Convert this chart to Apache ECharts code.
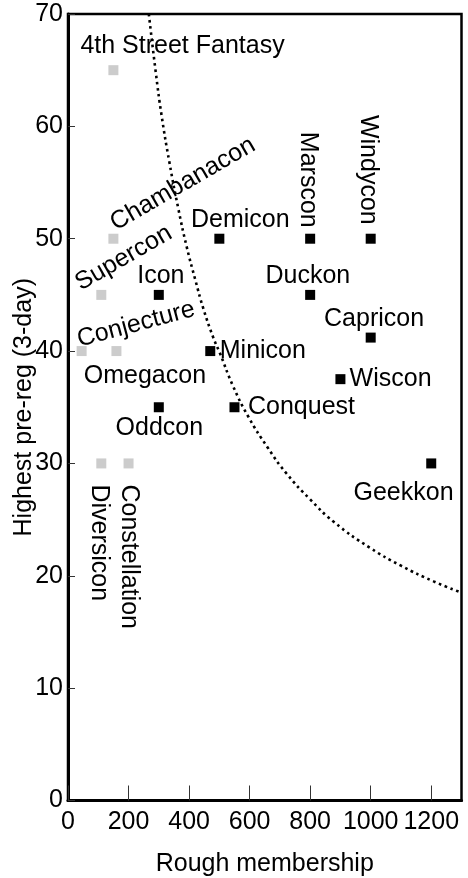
<!DOCTYPE html>
<html><head><meta charset="utf-8">
<script src="https://cdn.jsdelivr.net/npm/echarts@6/dist/echarts.min.js"></script>
<style>html,body{margin:0;padding:0;background:#fff}#c{width:468px;height:878px}</style>
</head><body><div id="c"></div>
<script>
// Grey conventions
const grayNames = ['4th Street Fantasy','Chambanacon','Supercon','Conjecture','Omegacon','Diversicon','Constellation'];
const grayMembership = [150,150,110,45,160,110,200];
const grayPrereg = [65,50,45,40,40,30,30];
// Black conventions
const blackNames = ['Icon','Demicon','Marscon','Windycon','Duckon','Capricon','Minicon','Wiscon','Conquest','Oddcon','Geekkon'];
const blackMembership = [300,500,800,1000,800,1000,470,900,550,300,1200];
const blackPrereg = [45,50,50,50,45,41.2,40,37.5,35,35,30];
// Dotted curve
const curveMembership = [267,290,309,335,365,392,420,447,480,502,545,595,660,722,800,878,997,1100,1208,1300];
const curvePrereg = [70,64.8,61.0,56.8,52.6,49.3,46.4,43.8,41.2,39.8,36.9,34.2,31.4,29.1,26.8,24.8,22.5,20.9,19.5,18.5];
// Axis ticks
const xTickStep = 200, xMin = 0, xMax = 1300;
const yTickStep = 10, yMin = 0, yMax = 70;

// Label placement (layout only): [dx, dy, align, rotate]
const labelPlacement = {
  '4th Street Fantasy': [-33, -24, 'left', 0],
  'Chambanacon': [-1, -14, 'left', 30],
  'Supercon': [-24, -10, 'left', 30],
  'Conjecture': [-4, -11, 'left', 15],
  'Omegacon': [28.5, 25, 'center', 0],
  'Diversicon': [-2.5, 21, 'left', -90],
  'Constellation': [0, 21, 'left', -90],
  'Icon': [2, -18.7, 'center', 0],
  'Demicon': [21, -19, 'center', 0],
  'Marscon': [-2.7, -11, 'right', -90],
  'Windycon': [-3, -14, 'right', -90],
  'Duckon': [-2.3, -18.7, 'center', 0],
  'Capricon': [3.4, -18.5, 'center', 0],
  'Minicon': [9.5, 0.3, 'left', 0],
  'Wiscon': [9.2, 0.3, 'left', 0],
  'Conquest': [13.5, 0, 'left', 0],
  'Oddcon': [0.5, 20.5, 'center', 0],
  'Geekkon': [-27.7, 29.5, 'center', 0]
};
const FONT = "'Liberation Sans', Arial, Helvetica, sans-serif";
const FS = 25;
const SYM = 10;

function buildPoints(names, xs, ys) {
  return names.map((n, i) => {
    const p = labelPlacement[n];
    return {
      name: n,
      value: [xs[i], ys[i]],
      label: {
        show: true,
        formatter: n,
        position: [SYM / 2 + p[0], SYM / 2 + p[1]],
        align: p[2],
        verticalAlign: 'middle',
        rotate: p[3]
      }
    };
  });
}

const chart = echarts.init(document.getElementById('c'), null, {renderer: 'canvas'});
chart.setOption({
  animation: false,
  backgroundColor: '#fff',
  textStyle: {fontFamily: FONT},
  grid: {left: 68, right: 6.5, top: 14, bottom: 77.5, outerBoundsMode: 'none', containLabel: false,
         show: true, borderColor: '#000', borderWidth: 2.5, backgroundColor: 'transparent'},
  xAxis: {
    type: 'value', min: xMin, max: xMax, interval: xTickStep,
    name: 'Rough membership', nameLocation: 'middle', nameGap: 51, nameMoveOverlap: false,
    nameTextStyle: {fontSize: FS, color: '#000', fontFamily: FONT},
    axisLine: {show: true, onZero: false, lineStyle: {color: '#000', width: 3}},
    axisTick: {show: true, inside: true, length: 15, lineStyle: {color: '#333', width: 1}},
    axisLabel: {fontSize: FS, color: '#000', margin: 9, fontFamily: FONT, showMaxLabel: false,
                formatter: v => String(v)},
    splitLine: {show: false}
  },
  yAxis: {
    type: 'value', min: yMin, max: yMax, interval: yTickStep,
    name: 'Highest pre-reg (3-day)', nameLocation: 'middle', nameGap: 31, nameMoveOverlap: false,
    nameTextStyle: {fontSize: FS, color: '#000', fontFamily: FONT},
    axisLine: {show: true, onZero: false, lineStyle: {color: '#000', width: 3}},
    axisTick: {show: true, inside: true, length: 7, lineStyle: {color: '#333', width: 1}},
    axisLabel: {fontSize: FS, color: '#000', margin: 5, fontFamily: FONT, formatter: v => String(v)},
    splitLine: {show: false}
  },
  series: [
    {
      type: 'line',
      data: curveMembership.map((x, i) => [x, curvePrereg[i]]),
      smooth: 0.5,
      showSymbol: false,
      symbol: 'none',
      clip: true,
      lineStyle: {color: '#000', width: 2.6, type: [2.6, 3.6], cap: 'butt'},
      z: 3,
      silent: true
    },
    {
      type: 'scatter',
      symbol: 'rect',
      symbolSize: SYM,
      itemStyle: {color: '#cccccc', opacity: 1},
      label: {color: '#000', fontSize: FS, fontFamily: FONT},
      data: buildPoints(grayNames, grayMembership, grayPrereg),
      z: 2
    },
    {
      type: 'scatter',
      symbol: 'rect',
      symbolSize: SYM,
      itemStyle: {color: '#000', opacity: 1},
      label: {color: '#000', fontSize: FS, fontFamily: FONT},
      data: buildPoints(blackNames, blackMembership, blackPrereg),
      z: 2
    }
  ]
});
</script>
</body></html>
